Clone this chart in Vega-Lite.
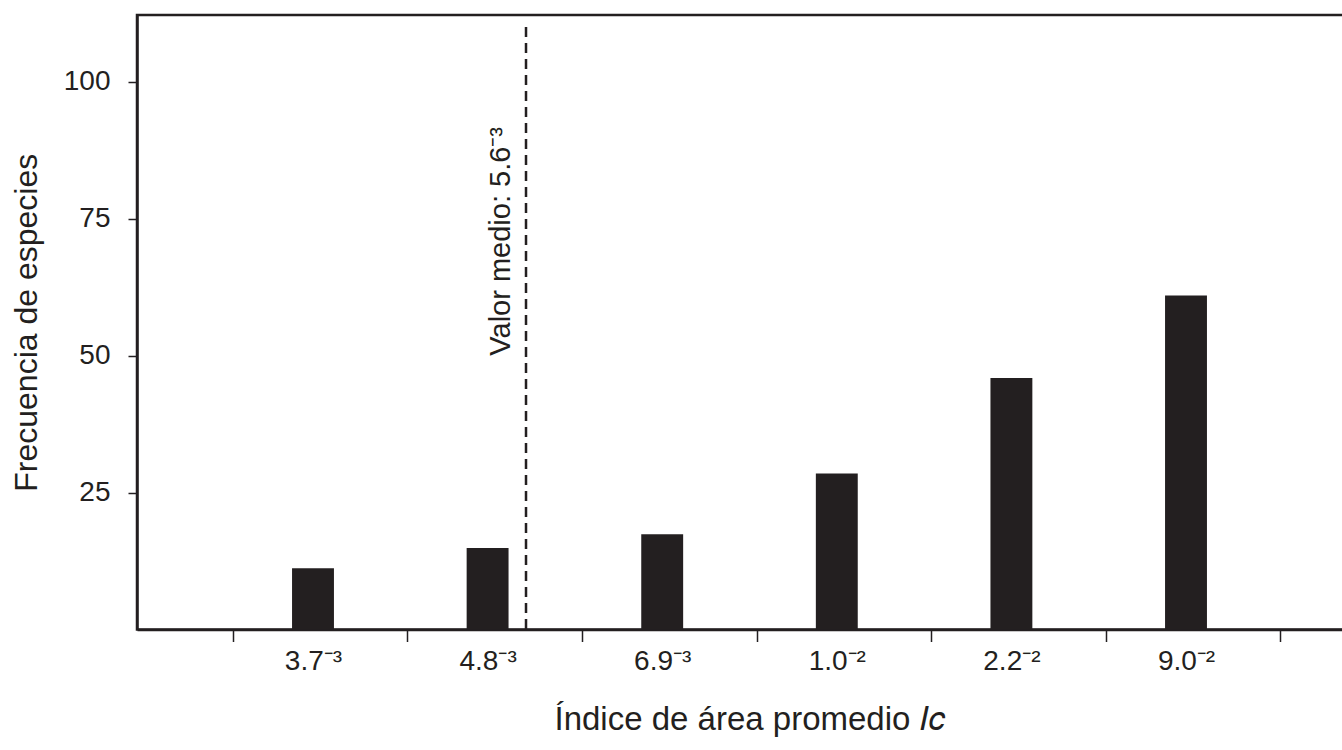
{
  "$schema": "https://vega.github.io/schema/vega-lite/v6.json",
  "width": 1225,
  "height": 614.5,
  "autosize": "none",
  "padding": {"left": 137, "top": 15, "right": 0, "bottom": 120.5},
  "background": "white",
  "config": {
    "view": {"stroke": "#231f20", "strokeWidth": 2.5},
    "font": "Liberation Sans",
    "axis": {"grid": false, "domainColor": "#231f20", "domainWidth": 2.5, "tickColor": "#231f20", "tickWidth": 1.5, "labelColor": "#231f20", "titleColor": "#231f20", "labelFont": "Liberation Sans", "titleFont": "Liberation Sans", "titleFontWeight": "normal"}
  },
  "datasets": {
    "bars": [
      {"indice": "3.7⁻³", "frecuencia": 11.2},
      {"indice": "4.8⁻³", "frecuencia": 14.9},
      {"indice": "6.9⁻³", "frecuencia": 17.4},
      {"indice": "1.0⁻²", "frecuencia": 28.5},
      {"indice": "2.2⁻²", "frecuencia": 45.9},
      {"indice": "9.0⁻²", "frecuencia": 61}
    ],
    "media": [
      {"indice": "4.8⁻³", "tope": 110, "base": 50, "texto": "Valor medio: 5.6⁻³"}
    ]
  },
  "layer": [
    {
      "data": {"name": "bars"},
      "mark": {"type": "bar", "color": "#231f20", "width": {"band": 0.24}},
      "encoding": {
        "x": {
          "field": "indice",
          "type": "nominal",
          "sort": null,
          "scale": {"domain": ["3.7⁻³", "4.8⁻³", "6.9⁻³", "1.0⁻²", "2.2⁻²", "9.0⁻²"], "paddingInner": 0, "paddingOuter": 0.508},
          "axis": {
            "title": "Índice de área promedio 𝐼𝑐",
            "titleFontSize": 33,
            "titlePadding": 28,
            "labelFontSize": 28,
            "labelAngle": 0,
            "labelPadding": 6,
            "tickSize": 12,
            "bandPosition": 1,
            "tickExtra": true,
            "tickOffset": 7,
            "labelOffset": -7
          }
        },
        "y": {
          "field": "frecuencia",
          "type": "quantitative",
          "scale": {"domain": [0, 112.2], "nice": false, "zero": true},
          "axis": {
            "title": "Frecuencia de especies",
            "titleFontSize": 32,
            "titlePadding": 20,
            "labelFontSize": 28,
            "labelPadding": 18,
            "tickSize": 9,
            "values": [25, 50, 75, 100]
          }
        }
      }
    },
    {
      "data": {"name": "media"},
      "mark": {"type": "rule", "color": "#231f20", "strokeWidth": 2.5, "strokeDash": [10, 6]},
      "encoding": {
        "x": {"field": "indice", "type": "nominal", "bandPosition": 0.72},
        "y": {"field": "tope", "type": "quantitative"},
        "y2": {"datum": 0}
      }
    },
    {
      "data": {"name": "media"},
      "mark": {"type": "text", "color": "#231f20", "fontSize": 29, "angle": 270, "align": "left", "baseline": "alphabetic"},
      "encoding": {
        "x": {"field": "indice", "type": "nominal", "bandPosition": 0.629},
        "y": {"field": "base", "type": "quantitative"},
        "text": {"field": "texto"}
      }
    }
  ]
}
